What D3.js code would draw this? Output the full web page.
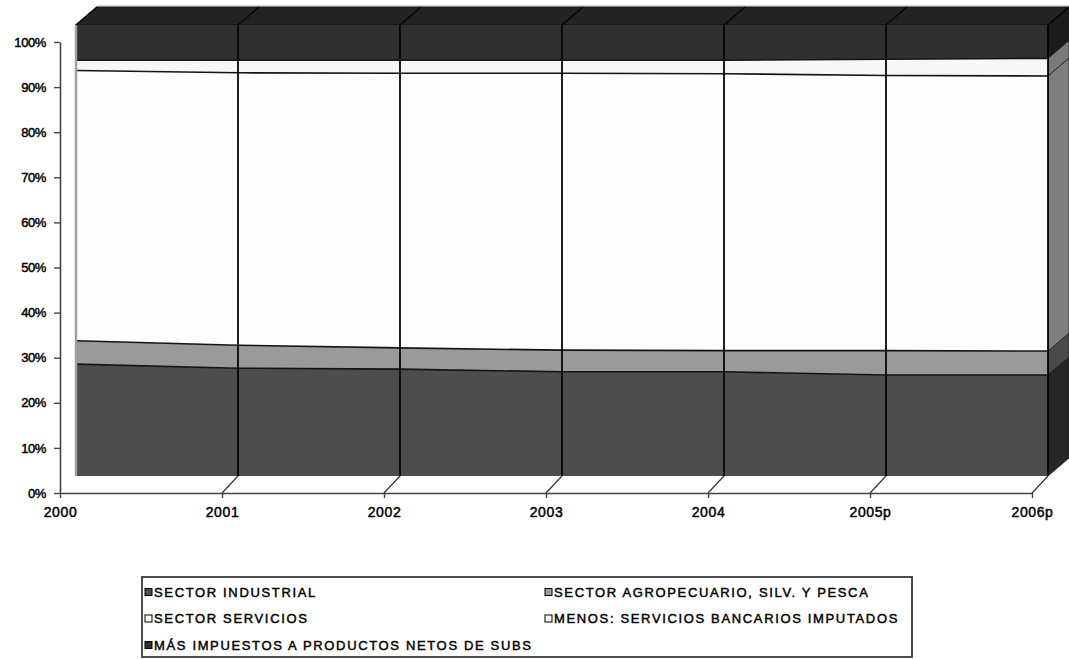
<!DOCTYPE html>
<html>
<head>
<meta charset="utf-8">
<script src="https://cdn.jsdelivr.net/npm/d3@7"></script>
<style>
  html, body { margin: 0; padding: 0; background: #ffffff; }
  svg { display: block; }
  text { font-family: "Liberation Sans", Arial, sans-serif; fill: #000; }
</style>
</head>
<body>
<svg id="chart" width="1069" height="659"></svg>
<script>
// Composición porcentual del PIB por sector, 2000–2006p
const years = ["2000", "2001", "2002", "2003", "2004", "2005p", "2006p"];
const industrial   = [24.8, 23.9, 23.7, 23.1, 23.1, 22.4, 22.4];
const agropecuario = [5.2, 5.1, 4.7, 4.8, 4.7, 5.4, 5.3];
const servicios    = [59.9, 60.4, 60.9, 61.4, 61.4, 61.0, 61.0];
const bancarios    = [2.3, 2.8, 2.9, 2.9, 3.0, 3.6, 3.9];
const impuestos    = [7.8, 7.8, 7.8, 7.8, 7.8, 7.6, 7.4];
const seriesNames = [
  "SECTOR INDUSTRIAL",
  "SECTOR AGROPECUARIO, SILV. Y PESCA",
  "SECTOR SERVICIOS",
  "MENOS: SERVICIOS BANCARIOS IMPUTADOS",
  "MÁS IMPUESTOS A PRODUCTOS NETOS DE SUBS"
];
const yTickValues = [0, 0.1, 0.2, 0.3, 0.4, 0.5, 0.6, 0.7, 0.8, 0.9, 1.0];

const keys = ["ind", "agr", "ser", "ban", "imp"];
const rows = years.map((yr, i) => ({
  year: yr,
  ind: industrial[i], agr: agropecuario[i], ser: servicios[i],
  ban: bancarios[i], imp: impuestos[i]
}));

const frontFill = ["#4d4d4d", "#9a9a9a", "#fdfdfd", "#f7f7f7", "#303030"];
const sideFill  = ["#262626", "#4a4a4a", "#7e7e7e", "#7a7a7a", "#1b1b1b"];
const topFill = "#232323";

const svg = d3.select("#chart");

const x = d3.scalePoint().domain(years).range([60, 1032]);
const y = d3.scaleLinear().domain([0, 1]).range([493, 42]);

// offset of the series' front wall from the axis plane, and the depth of the 3D band
const FX = 16, FY = -17;
const DX = 21, DY = -18;

const stacked = d3.stack().keys(keys).offset(d3.stackOffsetExpand)(rows);

const front = svg.append("g").attr("transform", `translate(${FX},${FY})`);

const xFirst = x(years[0]), xLast = x(years[years.length - 1]);

// faint outline above the band
front.append("line")
  .attr("x1", xFirst + DX).attr("x2", xLast + DX)
  .attr("y1", y(1) + DY - 1.5).attr("y2", y(1) + DY - 1.5)
  .attr("stroke", "#d4d4d4").attr("stroke-width", 1.2);

// top face of the band
front.append("path")
  .attr("d", d3.line()([
    [xFirst, y(1)], [xLast, y(1)], [xLast + DX, y(1) + DY], [xFirst + DX, y(1) + DY]
  ]) + "Z")
  .attr("fill", topFill)
  .attr("stroke", "#111")
  .attr("stroke-width", 1.2);

// right-hand side face, one slab per series
stacked.forEach((layer, i) => {
  const last = layer[layer.length - 1];
  front.append("path")
    .attr("d", d3.line()([
      [xLast, y(last[1])], [xLast + DX, y(last[1]) + DY],
      [xLast + DX, y(last[0]) + DY], [xLast, y(last[0])]
    ]) + "Z")
    .attr("fill", sideFill[i])
    .attr("stroke", "#1a1a1a")
    .attr("stroke-width", 0.8);
});

// front wall of the stacked areas
const area = d3.area()
  .x(d => x(d.data.year))
  .y0(d => y(d[0]))
  .y1(d => y(d[1]));

front.selectAll("path.layer")
  .data(stacked)
  .join("path")
  .attr("class", "layer")
  .attr("d", area)
  .attr("fill", (d, i) => frontFill[i]);

// boundaries between series
const edge = d3.line().x(d => x(d.data.year)).y(d => y(d[1]));
front.selectAll("path.edge")
  .data(stacked.slice(0, stacked.length - 1))
  .join("path")
  .attr("class", "edge")
  .attr("d", edge)
  .attr("fill", "none")
  .attr("stroke", "#141414")
  .attr("stroke-width", 1.6);

// edge lines at each category across the front wall and top face
years.forEach((yr, i) => {
  const cx = x(yr);
  front.append("line")
    .attr("x1", cx).attr("x2", cx)
    .attr("y1", y(0)).attr("y2", y(1))
    .attr("stroke", i === 0 ? "#a0a0a0" : "#050505")
    .attr("stroke-width", i === 0 ? 2.4 : 1.8);
  front.append("line")
    .attr("x1", cx).attr("x2", cx + DX)
    .attr("y1", y(1)).attr("y2", y(1) + DY)
    .attr("stroke", "#050505")
    .attr("stroke-width", 1.4);
});

// floor connectors from axis ticks to the front wall
years.slice(1).forEach(yr => {
  const cx = x(yr);
  svg.append("line")
    .attr("x1", cx).attr("y1", y(0))
    .attr("x2", cx + FX).attr("y2", y(0) + FY)
    .attr("stroke", "#333")
    .attr("stroke-width", 1.2);
});

// axes
const yAxis = svg.append("g")
  .attr("transform", `translate(${x(years[0])},0)`)
  .call(d3.axisLeft(y).tickValues(yTickValues)
    .tickFormat(d3.format(".0%")).tickSize(6).tickSizeOuter(0).tickPadding(8));

const xAxis = svg.append("g")
  .attr("transform", `translate(0,${y(0)})`)
  .call(d3.axisBottom(x).tickSize(5).tickSizeOuter(0).tickPadding(9));

[yAxis, xAxis].forEach(g => {
  g.select(".domain").attr("stroke", "#444").attr("stroke-width", 1.6);
  g.selectAll(".tick line").attr("stroke", "#444").attr("stroke-width", 1.4);
  g.selectAll(".tick text")
    .style("font-family", '"Liberation Sans", Arial, sans-serif')
    .attr("fill", "#000")
    .attr("stroke", "#000").attr("stroke-width", 0.45);
});
yAxis.selectAll(".tick text").style("font-size", "13px").style("letter-spacing", "-0.4px");
xAxis.selectAll(".tick text").style("font-size", "14px").style("letter-spacing", "0.6px");

// legend
const legend = svg.append("g");
legend.append("rect")
  .attr("x", 142).attr("y", 577).attr("width", 770).attr("height", 80)
  .attr("fill", "#fff").attr("stroke", "#3a3a3a").attr("stroke-width", 1.8);

const legendPos = [
  [145, 592], [545, 592],
  [145, 618.5], [545, 618.5],
  [145, 645]
];
seriesNames.forEach((name, i) => {
  const [lx, ly] = legendPos[i];
  legend.append("rect")
    .attr("x", lx).attr("y", ly - 3.5).attr("width", 7).attr("height", 7)
    .attr("fill", frontFill[i]).attr("stroke", "#000").attr("stroke-width", 1);
  legend.append("text")
    .attr("x", lx + 9).attr("y", ly)
    .attr("dominant-baseline", "central")
    .style("font-size", "13px")
    .style("letter-spacing", "1.65px")
    .attr("stroke", "#000").attr("stroke-width", 0.45)
    .text(name);
});
</script>
</body>
</html>
